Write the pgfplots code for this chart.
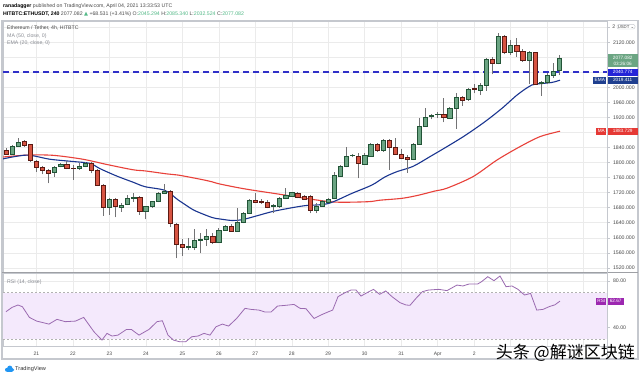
\documentclass[border=0pt]{standalone}
\usepackage{pgfplots}
\pgfplotsset{compat=1.18}
\usepackage{pgfplotstable}
\usepackage{fontspec}
\setmainfont{Liberation Sans}
\newfontfamily\dejavu{DejaVu Sans}
\newfontfamily\cjk{Noto Sans CJK SC}

\definecolor{cup}{HTML}{6BA583}
\definecolor{cupb}{HTML}{225437}
\definecolor{cdn}{HTML}{D75442}
\definecolor{cdnb}{HTML}{5B1A13}
\definecolor{wick}{HTML}{737375}
\definecolor{gridc}{HTML}{EBEBEB}
\definecolor{framec}{HTML}{C5C8CE}
\definecolor{maline}{HTML}{E8413A}
\definecolor{emaline}{HTML}{1A3590}
\definecolor{lvl}{HTML}{3030C8}
\definecolor{rsic}{HTML}{9A6AB0}
\definecolor{rsiband}{HTML}{F4E9FC}
\definecolor{txt}{HTML}{4A4A4A}
\definecolor{txtl}{HTML}{8A8D94}
\definecolor{valg}{HTML}{53B987}
\definecolor{tagg}{HTML}{6BA583}
\definecolor{tagb}{HTML}{2424D8}
\definecolor{tagema}{HTML}{1F3F8F}
\definecolor{tagma}{HTML}{E53935}
\definecolor{tagrsi}{HTML}{9C27B0}
\definecolor{tvblue}{HTML}{2196F3}

\newdimen\cbhlen \newdimen\chlen \newdimen\cllen
\pgfdeclareplotmark{nothing}{}

\pgfplotsset{candlestyle/.style={
  scatter, only marks, mark=nothing,
  visualization depends on={\thisrow{o}\as\candO},
  visualization depends on={\thisrow{h}\as\candH},
  visualization depends on={\thisrow{l}\as\candL},
  visualization depends on={\thisrow{c}\as\candC},
  scatter/@pre marker code/.code={%
    \pgfmathsetmacro\cdo{\candO-\candC}%
    \pgfmathsetmacro\cdh{\candH-\candC}%
    \pgfmathsetmacro\cdl{\candL-\candC}%
    \pgfextracty{\cbhlen}{\pgfplotspointaxisdirectionxy{0}{\cdo}}%
    \pgfextracty{\chlen}{\pgfplotspointaxisdirectionxy{0}{\cdh}}%
    \pgfextracty{\cllen}{\pgfplotspointaxisdirectionxy{0}{\cdl}}%
    \ifdim\cbhlen<0.8pt \ifdim\cbhlen>-0.8pt \cbhlen=0.8pt \fi\fi
    \pgfscope
    \pgfsetlinewidth{0.7pt}\pgfsetstrokecolor{wick}%
    \pgfpathmoveto{\pgfqpoint{0pt}{\cllen}}%
    \pgfpathlineto{\pgfqpoint{0pt}{\chlen}}%
    \pgfusepath{stroke}%
    \ifdim\candC pt<\candO pt
      \pgfsetfillcolor{cdn}\pgfsetstrokecolor{cdnb}%
    \else
      \pgfsetfillcolor{cup}\pgfsetstrokecolor{cupb}%
    \fi
    \pgfsetlinewidth{0.5pt}%
    \pgfpathrectanglecorners{\pgfqpoint{-2.1pt}{0pt}}{\pgfqpoint{2.1pt}{\cbhlen}}%
    \pgfusepath{fill,stroke}%
    \endpgfscope
  },
  scatter/@post marker code/.code={},
}}

\pgfplotstableread{
i o h l c
0 1831.9 1838.0 1820.4 1823.0
1 1823.0 1847.0 1821.0 1842.5
2 1844.3 1864.7 1842.5 1855.0
3 1856.7 1860.0 1842.5 1846.0
4 1847.9 1849.6 1802.6 1807.0
5 1804.4 1807.0 1776.0 1787.5
6 1787.5 1791.0 1768.9 1779.6
7 1779.6 1782.0 1745.0 1771.6
8 1773.3 1791.0 1762.7 1787.5
9 1789.3 1800.0 1787.5 1796.4
10 1795.5 1805.3 1782.0 1784.9
11 1784.9 1793.7 1753.8 1784.0
12 1784.0 1798.0 1780.4 1789.3
13 1789.3 1802.6 1787.5 1798.2
14 1798.2 1802.0 1771.6 1778.7
15 1778.7 1782.0 1737.8 1740.5
16 1740.5 1743.0 1658.0 1680.2
17 1680.2 1706.8 1660.7 1702.4
18 1702.4 1705.0 1654.4 1682.8
19 1680.2 1691.7 1669.5 1687.3
20 1689.0 1713.9 1687.0 1705.0
21 1704.1 1720.0 1696.0 1707.7
22 1707.7 1710.0 1660.7 1669.5
23 1669.5 1684.0 1649.0 1682.8
24 1682.8 1699.0 1680.0 1696.2
25 1696.0 1722.7 1694.0 1718.3
26 1718.3 1742.2 1716.5 1723.6
27 1722.7 1727.0 1627.8 1638.4
28 1636.6 1638.4 1545.3 1582.5
29 1582.5 1595.8 1551.5 1574.5
30 1573.6 1598.5 1567.4 1576.3
31 1574.5 1622.4 1567.4 1594.0
32 1593.2 1613.6 1558.6 1595.8
33 1595.8 1622.4 1578.0 1604.7
34 1604.7 1611.8 1583.4 1587.0
35 1587.0 1625.1 1585.0 1620.7
36 1620.7 1634.0 1618.9 1629.6
37 1631.3 1636.6 1616.2 1618.0
38 1618.0 1678.3 1616.2 1640.2
39 1640.2 1669.5 1638.0 1665.0
40 1665.0 1702.3 1663.0 1700.5
41 1700.5 1720.0 1691.7 1694.3
42 1696.1 1702.3 1689.9 1693.4
43 1693.4 1700.5 1678.3 1681.0
44 1682.8 1689.0 1665.0 1684.6
45 1682.8 1709.4 1680.0 1705.0
46 1705.0 1731.6 1703.0 1713.8
47 1711.2 1722.8 1709.0 1720.1
48 1718.3 1722.8 1705.0 1707.7
49 1711.2 1714.0 1700.6 1702.4
50 1709.4 1713.9 1665.1 1674.0
51 1672.3 1692.0 1665.1 1684.6
52 1684.6 1700.5 1682.8 1696.2
53 1694.4 1705.0 1691.7 1702.4
54 1705.0 1776.0 1702.4 1767.1
55 1764.5 1793.7 1762.7 1791.1
56 1789.3 1840.8 1787.5 1815.9
57 1817.7 1823.0 1814.1 1818.6
58 1817.7 1824.8 1758.2 1798.2
59 1796.4 1826.6 1793.7 1820.4
60 1817.7 1853.2 1815.9 1849.6
61 1849.6 1853.2 1829.2 1831.9
62 1831.9 1862.1 1829.2 1858.5
63 1858.5 1862.1 1780.4 1840.8
64 1840.8 1864.7 1820.4 1823.0
65 1823.0 1835.4 1808.8 1811.5
66 1814.1 1820.4 1773.3 1808.8
67 1808.8 1851.4 1807.0 1848.7
68 1848.7 1917.9 1847.0 1897.5
69 1898.0 1946.0 1895.0 1920.0
70 1921.0 1930.0 1915.0 1923.0
71 1925.5 1935.0 1920.0 1927.5
72 1928.6 1971.2 1907.3 1919.8
73 1918.0 1949.0 1916.0 1944.6
74 1944.6 1984.5 1889.6 1973.0
75 1973.0 1978.5 1951.7 1966.8
76 1969.4 1998.0 1964.1 1995.2
77 1997.8 2008.5 1984.5 1995.2
78 1993.4 2011.0 1980.0 2006.7
79 2006.7 2077.7 1990.7 2075.0
80 2075.0 2082.0 2035.1 2063.5
81 2063.5 2144.2 2061.7 2135.3
82 2135.3 2139.8 2088.3 2092.8
83 2092.8 2126.5 2086.6 2111.4
84 2113.2 2130.9 2082.1 2097.2
85 2097.2 2102.5 2068.8 2071.5
86 2071.5 2097.2 2008.5 2093.6
87 2093.6 2095.4 2006.7 2009.4
88 2010.0 2017.4 1978.3 2013.8
89 2013.8 2037.7 2008.5 2033.3
90 2033.3 2064.4 2026.2 2044.0
91 2045.294 2085.34 2032.524 2077.082
}\candles

\pgfplotstableread{
i v
-0.49 1810
3.45 1820
7.24 1809
11.02 1803
13.82 1798
15.46 1784
18.26 1764
20.89 1748
22.86 1736
26.15 1726
28.29 1701
29.77 1685
31.09 1672
33.88 1654
35.2 1650
37.17 1646
38.82 1648
40.95 1657
43.75 1669.5
46.38 1678
49.18 1685.5
52.96 1691
56.91 1718.3
60.2 1740.5
62.34 1762
64.31 1776
66.94 1790
69.74 1816
72.53 1842.6
75.49 1872
78.78 1909
81.58 1944.6
84.21 1982
86.51 2006.7
88.16 2010.5
89.8 2013.5
91.12 2019.4
}\emadata

\pgfplotstableread{
i v
-0.49 1815
3.45 1820
7.73 1819.5
12.66 1809
16.61 1795
20.89 1781
22.86 1778
26.48 1770
28.29 1767
31.91 1756
33.88 1749
35.2 1743
39.31 1730
44.74 1716.5
47.53 1709.4
49.18 1705
54.11 1695
59.54 1696
61.51 1700
65.13 1705
67.76 1713
70.56 1724.5
72.53 1732
76.81 1762.7
80.76 1807
84.54 1842.6
87.83 1869.2
91.12 1883.7
}\madata

\pgfplotstableread{
i v
0 53.5
0.99 57.2
1.97 59.3
2.70 57.8
3.85 48.6
5.05 45.4
7.07 42.8
8.39 46.9
9.75 44.9
11.43 45.4
12.78 48.6
14.47 36.2
15.79 29
16.61 34.8
17.43 32.5
18.42 33.3
19.82 38.2
20.62 38.2
21.88 33.3
23.52 38.2
24.84 44.9
25.72 45.7
26.64 33.3
27.55 29
28.55 27.6
29.56 27.6
30.56 31.9
31.58 32.5
32.57 34.8
33.55 33.3
34.54 40.5
35.59 42.8
36.61 41.1
37.94 47.7
39.31 56.4
40.30 55.5
41.61 54.9
42.60 53.2
43.59 53.2
44.67 58.4
46.0 59
47.37 59.8
48.36 56.4
49.34 56.1
50.66 47.7
52.04 51.2
53.06 53.5
53.73 54.9
54.61 66.5
55.76 69.9
56.74 72.2
57.57 72.2
58.39 67.0
59.38 69.9
60.44 72.8
61.45 68.5
62.45 71.4
63.49 66.5
64.80 61.3
65.79 59.3
66.45 59
67.43 65
68.49 70.8
69.5 72.2
71.18 72.8
72.53 71.7
74.18 76.5
75.16 75.7
76.15 77.4
77.57 77.4
78.22 79.4
79.24 83.7
80.26 80.3
81.25 84.3
82.24 75.1
83.22 75.7
84.21 72.8
85.28 67.9
86.28 69.3
87.29 54.9
88.32 55.5
89.31 57.8
90.30 59.5
91.12 62.67
}\rsidata

\begin{document}
\begin{tikzpicture}[x=1pt,y=1pt]
\useasboundingbox (0,0) rectangle (640,376);
\fill[white] (0,0) rectangle (640,376);

% main price pane
\begin{axis}[
  at={(3pt,104pt)}, anchor=south west, scale only axis,
  width=604pt, height=251pt,
  xmin=-0.49, xmax=98.85, ymin=1508.9, ymax=2177.0,
  disabledatascaling,
  xtick={5,11,...,95}, xticklabels={},
  ytick={1520,1560,...,2160},
  yticklabels={1520.000,1560.000,1600.000,1640.000,1680.000,1720.000,1760.000,1800.000,1840.000,{},1920.000,1960.000,2000.000,{},{},2120.000,{}},
  yticklabel pos=right,
  y tick label style={font=\fontsize{5.2}{6}\selectfont, text=txt},
  xmajorgrids, ymajorgrids, grid style={gridc, line width=0.5pt},
  axis line style={framec, line width=0.6pt},
  tick align=outside, major tick length=2.5pt,
  xtick style={draw=none}, ytick style={draw=framec, line width=0.5pt},
]
\addplot[lvl, line width=1.6pt, dash pattern=on 6pt off 4pt] coordinates {(-0.49,2040.774) (98.85,2040.774)};
\addplot[candlestyle] table[x=i,y=c]{\candles};
\addplot[maline, line width=1.1pt, smooth, tension=0.5] table[x=i,y=v]{\madata};
\addplot[emaline, line width=1.1pt, smooth, tension=0.5] table[x=i,y=v]{\emadata};
\end{axis}

% RSI pane
\begin{axis}[
  at={(3pt,30pt)}, anchor=south west, scale only axis,
  width=604pt, height=73pt,
  xmin=-0.49, xmax=98.85, ymin=23.9, ymax=86.9,
  xtick={5,11,...,95},
  xticklabels={21,22,23,24,25,26,27,28,29,30,31,Apr,2,{},{},{}},
  x tick label style={font=\fontsize{5}{6}\selectfont, text=txt},
  ytick={40,80},
  yticklabels={40.00,80.00},
  yticklabel pos=right,
  y tick label style={font=\fontsize{5.2}{6}\selectfont, text=txt},
  xmajorgrids, ymajorgrids, grid style={gridc, line width=0.5pt},
  axis line style={framec, line width=0.6pt},
  tick align=outside, major tick length=2.5pt,
  xtick style={draw=none}, ytick style={draw=framec, line width=0.5pt},
]
\addplot[draw=none, fill=rsiband] coordinates {(-0.49,30) (98.85,30) (98.85,70) (-0.49,70)} -- cycle;
\addplot[gray!60, line width=0.5pt, dash pattern=on 2pt off 2pt] coordinates {(-0.49,70) (98.85,70)};
\addplot[gray!60, line width=0.5pt, dash pattern=on 2pt off 2pt] coordinates {(-0.49,30) (98.85,30)};
\addplot[rsic, line width=0.8pt] table[x=i,y=v]{\rsidata};
\end{axis}

% frame and separators
\draw[framec, line width=1.2pt] (2,17) rectangle (638,355.5);
\draw[framec!80!black, line width=1.4pt] (2,103.5) -- (638,103.5);
\draw[framec, line width=0.6pt] (607,17) -- (607,355.5);

% header
\node[anchor=base west, inner sep=0, font=\fontsize{5.2}{6}\selectfont, text=txt] at (3,368.3)
  {\textbf{\color{black}ranadagger} published on TradingView.com, April 04, 2021 13:33:53 UTC};
\node[anchor=base west, inner sep=0, font=\fontsize{5.2}{6}\selectfont, text=txt] at (3,360)
  {\textbf{\color{black}HITBTC:ETHUSDT, 240} 2077.082 \textcolor{valg}{{\dejavu ▲}} +68.531 (+3.41\%) O:\textcolor{valg}{2045.294} H:\textcolor{valg}{2085.340} L:\textcolor{valg}{2032.524} C:\textcolor{valg}{2077.082}};

% pane legends
\node[anchor=base west, inner sep=0, font=\fontsize{5.2}{6}\selectfont, text=txt] at (7,346.7) {Ethereum / Tether, 4h, HITBTC};
\node[anchor=base west, inner sep=0, font=\fontsize{5.2}{6}\selectfont, text=txtl] at (7,339) {MA (50, close, 0)};
\node[anchor=base west, inner sep=0, font=\fontsize{5.2}{6}\selectfont, text=txtl] at (7,331.3) {EMA (20, close, 0)};
\node[anchor=base west, inner sep=0, font=\fontsize{5.2}{6}\selectfont, text=txtl] at (7,92.5) {RSI (14, close)};

% price scale tags
\node[anchor=east, inner sep=0, font=\fontsize{5.2}{6}\selectfont, text=txt] at (615.5,349.3) {2};
\node[fill=white, draw=framec, rounded corners=2pt, inner sep=0.8pt, font=\fontsize{4.3}{5}\selectfont, text=txt] at (626,349.3) {USDT {\dejavu ⌄}};
\node[fill=tagg, text=white, inner sep=0.6pt, anchor=west, minimum width=30pt, minimum height=13pt, align=center, font=\fontsize{4.7}{5.6}\selectfont] at (607.5,315.2) {2077.082\\03:26:06};
\node[fill=tagb, text=white, inner sep=0.6pt, anchor=west, minimum width=30pt, minimum height=7pt, font=\fontsize{4.7}{5.6}\selectfont] at (607.5,303.8) {2040.774};
\node[fill=tagema, text=white, inner sep=0.6pt, anchor=west, minimum width=30pt, minimum height=7pt, font=\fontsize{4.7}{5.6}\selectfont] at (607.5,295.8) {2019.411};
\node[fill=tagema, text=white, inner sep=0.6pt, anchor=east, minimum width=13pt, minimum height=7pt, font=\fontsize{4.7}{5.6}\selectfont] at (606.5,295.8) {EMA};
\node[fill=tagma, text=white, inner sep=0.6pt, anchor=west, minimum width=30pt, minimum height=7pt, font=\fontsize{4.7}{5.6}\selectfont] at (607.5,244.8) {1883.729};
\node[fill=tagma, text=white, inner sep=0.6pt, anchor=east, minimum width=10pt, minimum height=7pt, font=\fontsize{4.7}{5.6}\selectfont] at (606.5,244.8) {MA};
\node[fill=tagrsi, text=white, inner sep=0.6pt, anchor=west, minimum width=16pt, minimum height=7pt, font=\fontsize{4.7}{5.6}\selectfont] at (607.5,74.9) {62.67};
\node[fill=tagrsi, text=white, inner sep=0.6pt, anchor=east, minimum width=10pt, minimum height=7pt, font=\fontsize{4.7}{5.6}\selectfont] at (606.5,74.9) {RSI};

% TradingView logo
\fill[tvblue] (7,6.2) circle (2) (9.8,7.8) circle (2.6) (12.4,6.2) circle (1.9);
\fill[tvblue] (7,4.2) rectangle (12.4,6.2);
\node[anchor=base west, inner sep=0, font=\fontsize{5.6}{6}\selectfont, text=black!80] at (15,5.5) {TradingView};

% watermark
\node[anchor=base east, inner sep=0, text=black, font=\cjk\fontsize{17}{17}\selectfont] at (635,18) {头条 @解谜区块链};
\end{tikzpicture}
\end{document}
